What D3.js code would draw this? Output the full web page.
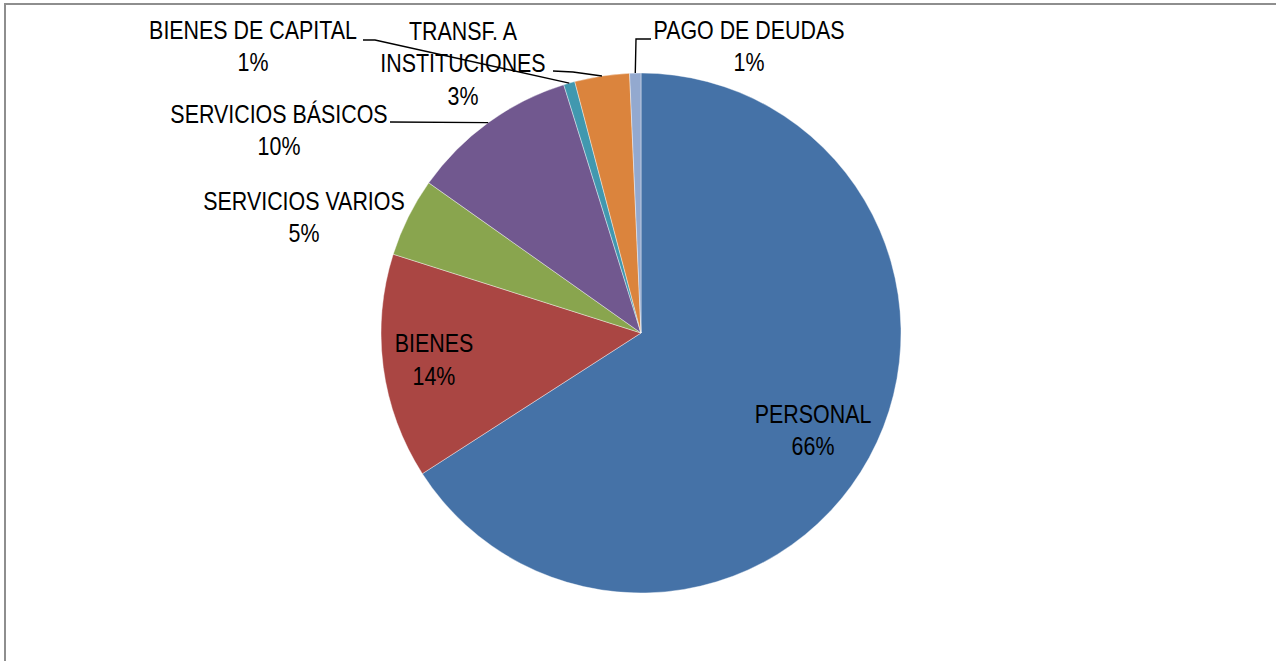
<!DOCTYPE html>
<html>
<head>
<meta charset="utf-8">
<script src="https://cdn.jsdelivr.net/npm/d3@7"></script>
<style>
  body { margin: 0; background: #fff; }
  svg text { font-family: "Liberation Sans", Arial, sans-serif; fill: #000; }
</style>
</head>
<body>
<svg id="chart" width="1276" height="661"></svg>
<script>
// categories and values (percent of total), clockwise from 12 o'clock
var categories = ["PERSONAL", "BIENES", "SERVICIOS VARIOS", "SERVICIOS BÁSICOS", "BIENES DE CAPITAL", "TRANSF. A INSTITUCIONES", "PAGO DE DEUDAS"];
var values = [65.9, 14.0, 4.9, 10.4, 0.7, 3.4, 0.7];
var colors = ["#4572A7", "#AA4643", "#89A54E", "#71588F", "#4198AF", "#DB843D", "#93A9CF"];
// how each label text is broken into lines
var labelLines = [["PERSONAL"], ["BIENES"], ["SERVICIOS VARIOS"], ["SERVICIOS BÁSICOS"], ["BIENES DE CAPITAL"], ["TRANSF. A", "INSTITUCIONES"], ["PAGO DE DEUDAS"]];

var width = 1276, height = 661;
var cx = 641, cy = 333, radius = 260;
var lineH = 32.5;
var narrow = 0.84; // squeeze to look like Arial Narrow

// outside label placement (absolute), leader start + elbow; inside labels use centroid
var outside = {
  "SERVICIOS VARIOS":        {x: 304, y: 210},
  "SERVICIOS BÁSICOS":       {x: 279, y: 123, lead: [[390, 122]]},
  "BIENES DE CAPITAL":       {x: 253, y: 39,  lead: [[363, 40], [375, 40]]},
  "TRANSF. A INSTITUCIONES": {x: 463, y: 40,  lead: [[553, 71], [573, 72]]},
  "PAGO DE DEUDAS":          {x: 749, y: 39,  lead: [[651, 39], [636, 39]]}
};

var svg = d3.select("#chart");

// chart frame
svg.append("rect")
    .attr("x", 5)
    .attr("y", 4)
    .attr("width", width + 20)
    .attr("height", height + 20)
    .attr("fill", "none")
    .attr("stroke", "#8e8e8e")
    .attr("stroke-width", 2);

var pie = d3.pie().sort(null).value(function(d) { return d.value; });
var data = categories.map(function(c, i) {
  return {name: c, value: values[i], color: colors[i], lines: labelLines[i]};
});
var arcs = pie(data);
var total = d3.sum(values);

var arc = d3.arc().innerRadius(0).outerRadius(radius);
var edgeArc = d3.arc().innerRadius(radius).outerRadius(radius);
var labelArc = d3.arc().innerRadius(radius * 0.78).outerRadius(radius * 0.78);

var g = svg.append("g").attr("transform", "translate(" + cx + "," + cy + ")");

g.selectAll("path.slice")
    .data(arcs)
  .enter().append("path")
    .attr("class", "slice")
    .attr("d", arc)
    .attr("fill", function(d) { return d.data.color; })
    .attr("stroke", "#fff")
    .attr("stroke-width", 0.4);

var fmt = function(d) { return Math.round(d.data.value / total * 100) + "%"; };

// leader lines
arcs.forEach(function(d) {
  var o = outside[d.data.name];
  if (!o || !o.lead) return;
  var end = edgeArc.centroid(d);
  var pts = o.lead.map(function(p) { return [p[0] - cx, p[1] - cy]; });
  pts.push(end);
  g.append("path")
      .attr("d", d3.line()(pts))
      .attr("fill", "none")
      .attr("stroke", "#000")
      .attr("stroke-width", 1.4);
});

// labels
arcs.forEach(function(d) {
  var o = outside[d.data.name];
  var lines = d.data.lines.concat([fmt(d)]);
  var x, y;
  if (o) {
    x = o.x - cx; y = o.y - cy;
  } else {
    var c = labelArc.centroid(d);
    x = c[0] - 6; // Excel nudges inside labels a little to the left
    y = c[1] - (lines.length - 1) * lineH / 2 + 9;
  }
  var t = g.append("text")
      .attr("text-anchor", "middle")
      .attr("font-size", 25.5)
      .attr("transform", "translate(" + x + "," + y + ") scale(" + narrow + ",1)");
  lines.forEach(function(s, i) {
    t.append("tspan")
        .attr("x", 0)
        .attr("y", i * lineH)
        .text(s);
  });
});
</script>
</body>
</html>
